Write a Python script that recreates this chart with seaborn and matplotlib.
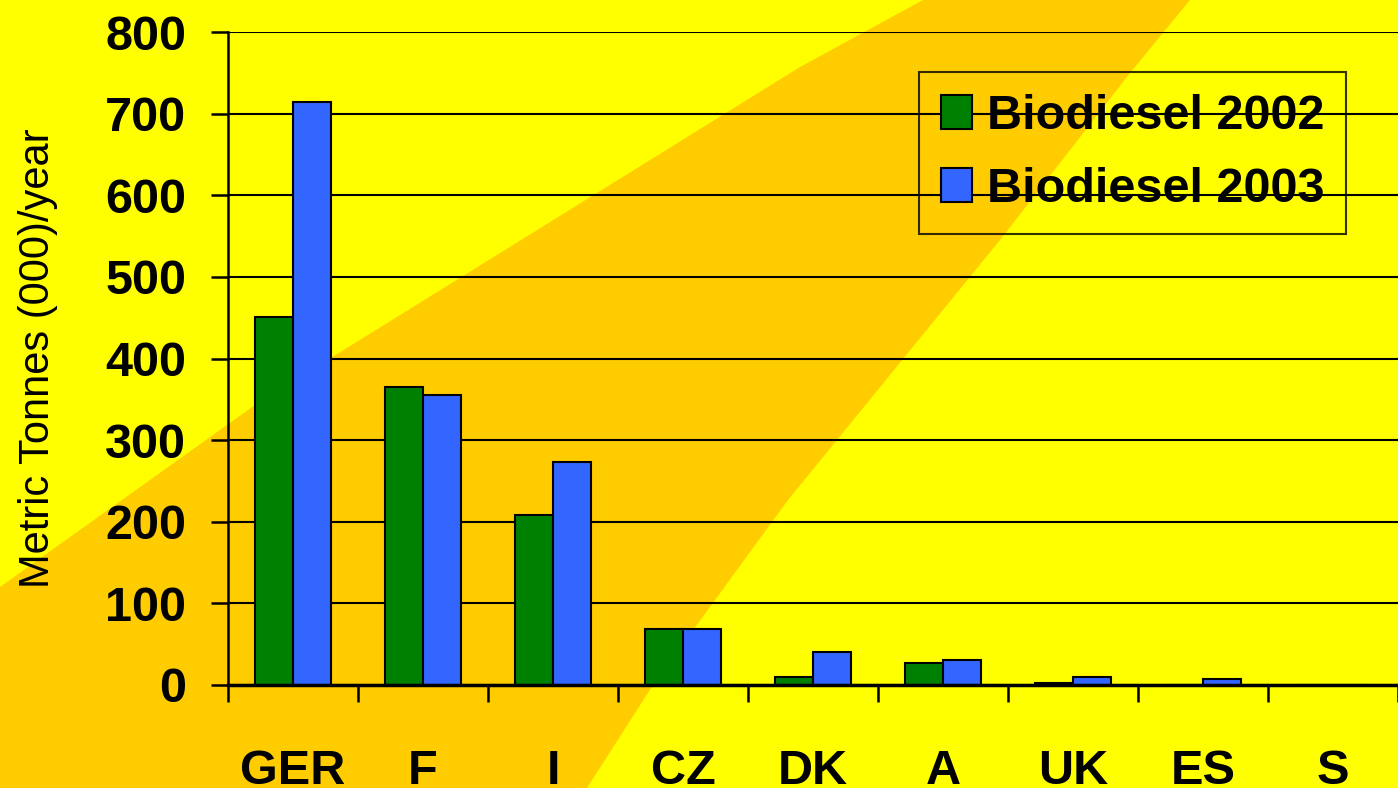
import matplotlib
matplotlib.use("Agg")
import matplotlib.pyplot as plt
import seaborn as sns
import pandas as pd
import numpy as np
from matplotlib.patches import Polygon

countries = ["GER", "F", "I", "CZ", "DK", "A", "UK", "ES", "S"]
biodiesel_2002 = [451, 365, 208, 69, 10, 27, 2, 0, 0]
biodiesel_2003 = [714, 355, 273, 69, 40, 31, 10, 7, 0]
series_names = ["Biodiesel 2002", "Biodiesel 2003"]
y_ticks = [0, 100, 200, 300, 400, 500, 600, 700, 800]

df = pd.DataFrame({
    "country": countries * 2,
    "series": [series_names[0]] * len(countries) + [series_names[1]] * len(countries),
    "value": biodiesel_2002 + biodiesel_2003,
})

sns.set_theme(style="white")
plt.rcParams["font.family"] = ["Liberation Sans", "DejaVu Sans"]
plt.rcParams["text.color"] = "black"
plt.rcParams["axes.labelcolor"] = "black"
plt.rcParams["xtick.color"] = "black"
plt.rcParams["ytick.color"] = "black"

W, H = 1398, 788
fig = plt.figure(figsize=(W / 100, H / 100), dpi=100, facecolor="#FFFF00")

# background orange band (decoration)
band_px = [(0, 587), (255, 405), (800, 67), (923, 0), (1190, 0), (1130, 73),
           (1000, 240), (788, 500), (653, 685), (587, 788), (0, 788)]
band = Polygon([(x / W, 1 - y / H) for x, y in band_px], closed=True,
               transform=fig.transFigure, facecolor="#FFCC00", edgecolor="none", zorder=0)
fig.add_artist(band)

ax = fig.add_axes([228 / W, 1 - 685 / H, 1170 / W, (685 - 32) / H])
ax.patch.set_alpha(0)
ax.set_zorder(1)

sns.barplot(data=df, x="country", y="value", hue="series", order=countries,
            hue_order=series_names, palette=["#008000", "#3366FF"], saturation=1,
            width=0.577, edgecolor="black", linewidth=1.5, ax=ax, zorder=3)

ax.set_xlim(-0.5, len(countries) - 0.5)
ax.set_ylim(0, 800)
ax.set_yticks(y_ticks)
ax.set_yticklabels([str(v) for v in y_ticks])
ax.yaxis.grid(True, color="black", linewidth=1.5)
ax.set_axisbelow(True)

for s in ["top", "right"]:
    ax.spines[s].set_visible(False)
ax.spines["left"].set_color("black")
ax.spines["left"].set_linewidth(1.8)
ax.spines["bottom"].set_color("black")
ax.spines["bottom"].set_linewidth(2.5)
ax.spines["bottom"].set_zorder(5)

ax.tick_params(axis="y", which="major", direction="out", length=12, width=1.8,
               color="black", pad=18, labelsize=35, left=True, labelcolor="black")
ax.tick_params(axis="x", which="major", length=0, pad=46, labelsize=35, labelcolor="black")
ax.set_xticks(np.arange(-0.5, len(countries)), minor=True)
ax.tick_params(axis="x", which="minor", direction="out", length=12, width=1.8,
               color="black", bottom=True)
for lab in ax.get_xticklabels() + ax.get_yticklabels():
    lab.set_fontweight("bold")
    lab.set_color("black")

ax.set_xlabel("")
ax.set_ylabel("Metric Tonnes (000)/year", fontsize=30, color="black", labelpad=34)

handles, labels = ax.get_legend_handles_labels()
leg = ax.legend(handles, labels, loc="upper right", bbox_to_anchor=(0.9556, 0.9387),
                borderaxespad=0, frameon=True, fancybox=False,
                edgecolor="black", prop={"size": 35, "weight": "bold"},
                handlelength=0.64, handleheight=0.68, handletextpad=0.3,
                labelspacing=0.58, borderpad=0.45)
frame = leg.get_frame()
frame.set_facecolor("none")
frame.set_edgecolor("black")
frame.set_linewidth(1.5)
for t in leg.get_texts():
    t.set_color("black")
leg.set_zorder(10)

fig.savefig("out.png", dpi=100, facecolor=fig.get_facecolor())
